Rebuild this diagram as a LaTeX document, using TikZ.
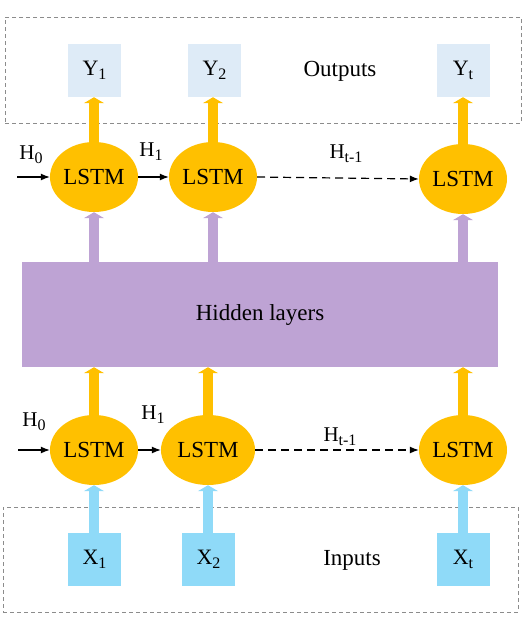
\documentclass[tikz,border=0pt]{standalone}
\usepackage{fontspec}
\setmainfont{Liberation Serif}
\usetikzlibrary{arrows.meta,positioning,shapes.geometric}
\definecolor{lstmgold}{HTML}{FFC000}
\definecolor{hidpurple}{HTML}{BEA3D4}
\definecolor{outblue}{HTML}{DEEBF7}
\definecolor{inblue}{HTML}{8FDAF8}
\definecolor{framegray}{HTML}{8C8C8C}
\newcommand{\lsub}[1]{\raisebox{-0.2em}{\fontsize{16}{18}\selectfont #1}}

\begin{document}
\begin{tikzpicture}[x=1pt,y=-1pt,
 lstm/.style={ellipse,fill=lstmgold,minimum width=88pt,minimum height=70pt,inner sep=0pt,font=\fontsize{23}{27}\selectfont},
 ybox/.style={fill=outblue,minimum width=53pt,minimum height=53pt,inner sep=0pt,font=\fontsize{22}{26}\selectfont},
 xbox/.style={ybox,fill=inblue},
 group/.style={draw=framegray,dash pattern=on 4pt off 3pt,line width=0.8pt,inner sep=0pt},
 fat/.style={line width=10pt,-{Triangle[length=6pt,width=20pt]}},
 harr/.style={-{Latex[length=9pt,width=7pt]},line width=1.2pt},
 lab/.style={font=\fontsize{21}{25}\selectfont},
 big/.style={font=\fontsize{23}{27}\selectfont}]
\useasboundingbox (0,0) rectangle (525,630);
% outputs
\node[group,minimum width=516pt,minimum height=106pt] (outgrp) at (263,70) {};
\node[ybox] (y1) at (94.5,70.5) {Y\lsub{1}};
\node[ybox] (y2) at (214.5,70.5) {Y\lsub{2}};
\node[ybox] (yt) at (463,70.5) {Y\lsub{t}};
\node[big] (outtxt) at (340,71) {Outputs};
% upper LSTM row
\node[lstm] (t1) at (94,177) {LSTM};
\node[lstm] (t2) at (213,177) {LSTM};
\node[lstm] (tt) at (463,179) {LSTM};
\coordinate (tin) at (17,177);
\node[lab] (th0) at (31,155) {H\lsub{0}};
\node[lab] (th1) at (151,152) {H\lsub{1}};
\node[lab] (tht) at (346,154) {H\lsub{t-1}};
\draw[harr] (tin) -- (t1.west);
\draw[harr] (t1.east) -- (t2.west);
\draw[harr,dash pattern=on 8pt off 5pt] (t2.east) -- (tt.west);
% hidden layers
\node[fill=hidpurple,minimum width=476pt,minimum height=105pt,inner sep=0pt,big] (hid) at (260,314.5) {Hidden layers};
% lower LSTM row
\node[lstm] (b1) at (94,450) {LSTM};
\node[lstm,minimum width=94pt] (b2) at (208,450) {LSTM};
\node[lstm] (bt) at (463,450) {LSTM};
\coordinate (bin) at (18,450);
\node[lab] (bh0) at (34,422) {H\lsub{0}};
\node[lab] (bh1) at (153,415) {H\lsub{1}};
\node[lab] (bht) at (340,437) {H\lsub{t-1}};
\draw[harr] (bin) -- (b1.west);
\draw[harr] (b1.east) -- (b2.west);
\draw[harr,dash pattern=on 8pt off 5pt] (b2.east) -- (bt.west);
% inputs
\node[group,minimum width=515pt,minimum height=105pt] (ingrp) at (260.5,559.5) {};
\node[xbox] (x1) at (94.5,559.5) {X\lsub{1}};
\node[xbox] (x2) at (208.5,559.5) {X\lsub{2}};
\node[xbox] (xt) at (463,559.5) {X\lsub{t}};
\node[big] (intxt) at (352,560) {Inputs};
% flow arrows
\foreach \l/\y in {t1/y1,t2/y2,tt/yt}
  \draw[fat,lstmgold] (\l.north) -- (\y.south -| \l);
\foreach \l in {t1,t2,tt}
  \draw[fat,hidpurple] (hid.north -| \l) -- (\l.south);
\foreach \l in {b1,b2,bt}
  \draw[fat,lstmgold] (\l.north) -- (hid.south -| \l);
\foreach \l/\x in {b1/x1,b2/x2,bt/xt}
  \draw[fat,inblue] (\x.north -| \l) -- (\l.south);
\end{tikzpicture}
\end{document}
